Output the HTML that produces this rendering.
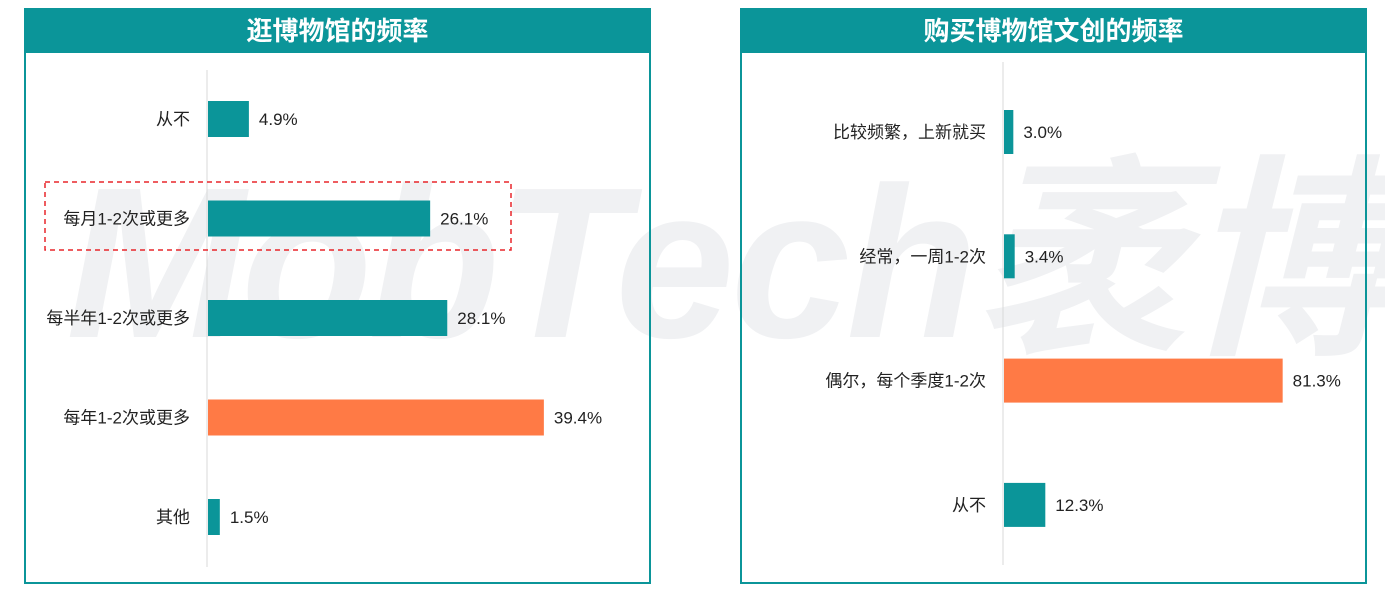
<!DOCTYPE html>
<html><head><meta charset="utf-8"><style>
body{margin:0;width:1385px;height:591px;background:#fff;overflow:hidden;font-family:"Liberation Sans","Noto Sans CJK SC",sans-serif;position:relative}
.panel{position:absolute;top:8px;width:623px;height:572px;border:2px solid #0b9599;box-sizing:content-box}
.hdr{position:absolute;left:0;top:0;right:0;height:43px;background:#0b9599;color:#fff;font-size:26px;font-weight:bold;text-align:center;line-height:43px}
.wm{position:absolute;left:66px;top:113px;width:1319px;height:300px;overflow:hidden;font-size:215px;font-weight:bold;font-style:italic;color:#f0f1f3;white-space:nowrap;letter-spacing:-4px;line-height:300px}
svg{position:absolute;left:0;top:0}
</style></head><body>
<div class="wm">MobTech袤博</div>
<div class="panel" style="left:24px"><div class="hdr">逛博物馆的频率</div></div>
<div class="panel" style="left:740px"><div class="hdr">购买博物馆文创的频率</div></div>
<svg id="c" width="1385" height="591"></svg>
<script>
const leftCats=["从不","每月1-2次或更多","每半年1-2次或更多","每年1-2次或更多","其他"];
const leftVals=[4.9,26.1,28.1,39.4,1.5];
const leftHi=[0,0,0,1,0];
const rightCats=["比较频繁，上新就买","经常，一周1-2次","偶尔，每个季度1-2次","从不"];
const rightVals=[3.0,3.4,81.3,12.3];
const rightHi=[0,0,1,0];
const svg=document.getElementById('c');
const NS='http://www.w3.org/2000/svg';
function mk(t,a){const e=document.createElementNS(NS,t);for(const k in a)e.setAttribute(k,a[k]);svg.appendChild(e);return e;}
function chart(cats,vals,hi,x0,pxPer,yTop,step,bh,axTop,axBot,prefix){
  const ax=mk('line',{x1:x0,x2:x0,y1:axTop,y2:axBot,stroke:'#d9d9d9','stroke-width':1});
  
  
  const y=i=>yTop+i*step;
  const x=v=>x0+v*pxPer;
  cats.forEach((c,i)=>{
    const r=mk('rect',{x:x0+1,y:y(i)-bh/2,width:x(vals[i])-x0-1,height:bh,fill:hi[i]?'#ff7a45':'#0b9599'});
    
    
    const l=mk('text',{x:x0-17,y:y(i)+6,'text-anchor':'end','font-size':17,fill:'#222'});
    l.textContent=c;
    
    
    const v=mk('text',{x:x(vals[i])+10,y:y(i)+6,'font-size':17,fill:'#222'});
    v.textContent=vals[i].toFixed(1)+'%';
    
    
  });
}
chart(leftCats,leftVals,leftHi,207,8.55,119,99.5,36,70,567,'left');
chart(rightCats,rightVals,rightHi,1003,3.44,132,124.3,44,62,565,'right');
const box=mk('rect',{x:45,y:182,width:466,height:68,fill:'none',stroke:'#e8262b','stroke-width':1.5,'stroke-dasharray':'5,4'});


</script>
</body></html>
